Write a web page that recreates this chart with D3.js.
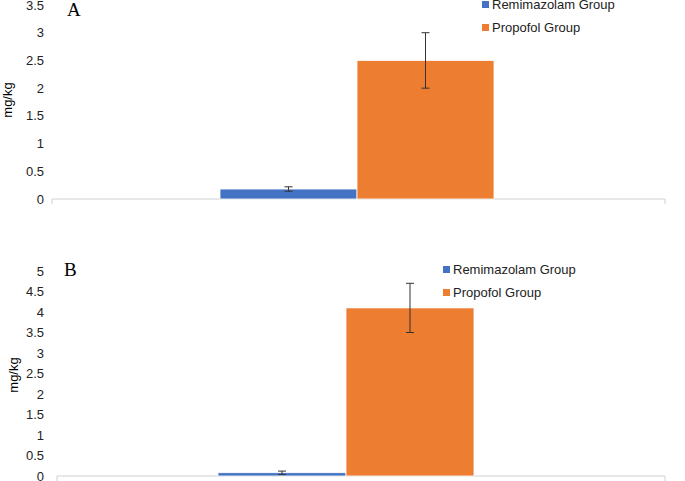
<!DOCTYPE html>
<html><head><meta charset="utf-8">
<script src="https://cdn.jsdelivr.net/npm/d3@7"></script>
<style>body{margin:0;background:#fff}</style>
</head><body>
<svg id="c" width="685" height="481"></svg>
<script>
const groups = ['Remimazolam Group', 'Propofol Group'];
const colors = ['#4472C4', '#ED7D31'];
const valuesA = [0.18, 2.5];
const errA = [0.04, 0.5];
const ticksA = [0, 0.5, 1, 1.5, 2, 2.5, 3, 3.5];
const valuesB = [0.08, 4.1];
const errB = [0.04, 0.6];
const ticksB = [0, 0.5, 1, 1.5, 2, 2.5, 3, 3.5, 4, 4.5, 5];

const svg = d3.select('#c');
const font = 'Liberation Sans, Arial, sans-serif';

function panel(cfg) {
  const g = svg.append('g');
  const y = d3.scaleLinear().domain([0, cfg.max]).range([cfg.y0, cfg.y1]);
  const x = d3.scaleBand().domain(groups).range([cfg.bx0, cfg.bx1]).padding(0);

  g.append('line').attr('x1', cfg.ax0).attr('x2', cfg.ax1)
    .attr('y1', y(0)).attr('y2', y(0)).attr('stroke', '#d0d0d0');
  g.append('line').attr('x1', cfg.ax1).attr('x2', cfg.ax1)
    .attr('y1', y(0)).attr('y2', y(0) + 5).attr('stroke', '#d0d0d0');
  g.append('line').attr('x1', cfg.ax0).attr('x2', cfg.ax0)
    .attr('y1', y(0)).attr('y2', y(0) + 5).attr('stroke', '#d0d0d0');

  g.selectAll('.t').data(cfg.ticks).enter().append('text')
    .attr('x', 44).attr('y', d => y(d) + 4.5).attr('text-anchor', 'end')
    .attr('font-family', font).attr('font-size', 13).attr('fill', '#222')
    .text(d => d);

  g.selectAll('.b').data(cfg.values).enter().append('rect')
    .attr('x', (d, i) => x(groups[i])).attr('width', x.bandwidth())
    .attr('y', d => y(d)).attr('height', d => y(0) - y(d))
    .attr('fill', (d, i) => colors[i]).attr('stroke', '#fff').attr('stroke-width', 0.8);

  cfg.values.forEach((v, i) => {
    const cx = x(groups[i]) + x.bandwidth() / 2;
    const e = cfg.err[i];
    g.append('line').attr('x1', cx).attr('x2', cx).attr('y1', y(v - e)).attr('y2', y(v + e))
      .attr('stroke', '#333');
    [v - e, v + e].forEach(t => g.append('line').attr('x1', cx - 4).attr('x2', cx + 4)
      .attr('y1', y(t)).attr('y2', y(t)).attr('stroke', '#333'));
  });

  g.append('text').attr('transform', `translate(${cfg.lx},${cfg.ly}) rotate(-90)`)
    .attr('text-anchor', 'middle').attr('font-family', font).attr('font-size', 13)
    .text('mg/kg');
  g.append('text').attr('x', cfg.px).attr('y', cfg.py).attr('font-family', 'Liberation Serif, serif')
    .attr('font-size', 19).text(cfg.label);

  groups.forEach((n, i) => {
    g.append('rect').attr('x', cfg.legx).attr('y', cfg.legy + i * 23 - 4)
      .attr('width', 7).attr('height', 7).attr('fill', colors[i]);
    g.append('text').attr('x', cfg.legx + 10).attr('y', cfg.legy + i * 23 + 4)
      .attr('font-family', font).attr('font-size', 13).attr('fill', '#222').text(n);
  });
}

panel({ max: 3.5, y0: 199, y1: 5, ticks: ticksA, values: valuesA, err: errA,
  bx0: 220, bx1: 494, ax0: 52, ax1: 665, lx: 12, ly: 100, px: 67, py: 16, label: 'A',
  legx: 482, legy: 5 });
panel({ max: 5, y0: 476, y1: 271, ticks: ticksB, values: valuesB, err: errB,
  bx0: 218, bx1: 474, ax0: 57, ax1: 665, lx: 18, ly: 375, px: 64, py: 276, label: 'B',
  legx: 443, legy: 270 });
</script>
</body></html>
